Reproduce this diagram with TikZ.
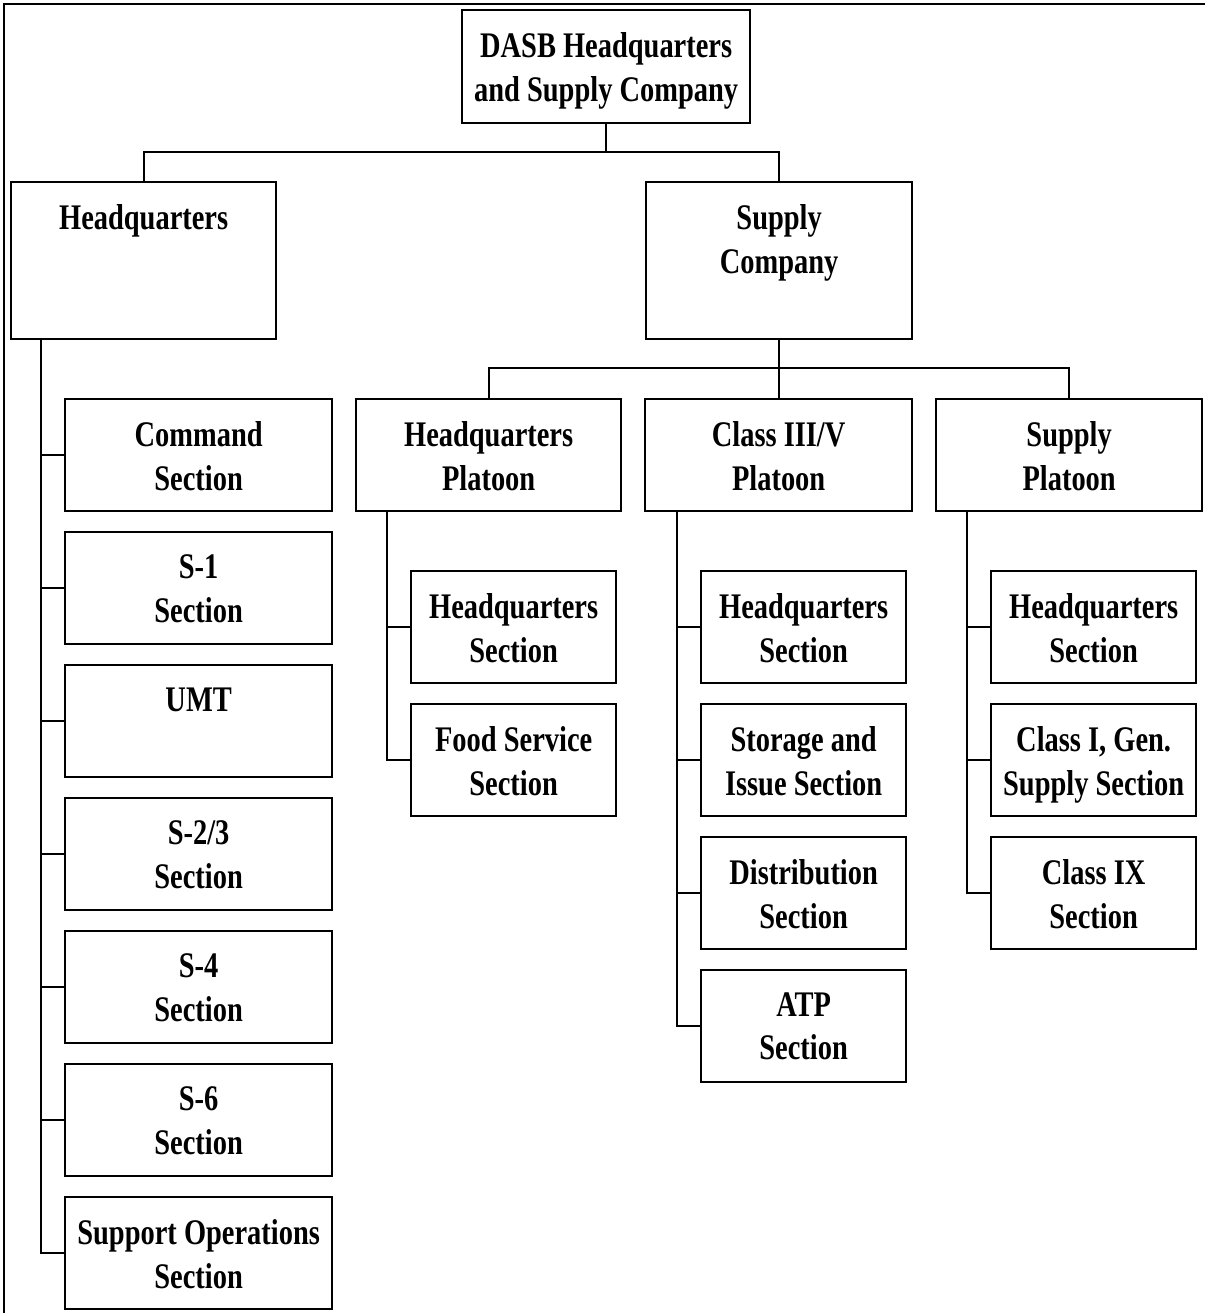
\documentclass[tikz,border=0pt]{standalone}
\usepackage{fontspec}
\newfontfamily\unitfont{Liberation Serif}[FakeStretch=0.79]
\usetikzlibrary{calc}

\tikzset{
  unit/.style={draw=black, line width=2.3pt, fill=white, rectangle, inner sep=0pt},
  unittext/.style={inner sep=0pt, align=center,
    font=\unitfont\bfseries\fontsize{36}{43.5}\selectfont},
  link/.style={draw=black, line width=2.2pt},
  frame/.style={draw=black, line width=2.7pt},
}

% \orgunit{name}{x1}{y1}{x2}{y2}{label}: a box with its label set near the top
\newcommand\orgunit[6]{%
  \node[unit, anchor=north west, minimum width={#4-#2}, minimum height={#5-#3}] (#1) at (#2,#3) {};
  \node[unittext, anchor=north] (#1-t) at ([yshift=-23.5pt]#1.north) {#6};
}

\begin{document}
\begin{tikzpicture}[x=1pt, y=-1pt]
\useasboundingbox (0,0) rectangle (1204,1313);

% page frame (open at right and bottom)
\coordinate (frame-bl) at (4,1320);
\coordinate (frame-tl) at (4,4);
\coordinate (frame-tr) at (1210,4);
\draw[frame] (frame-bl) -- (frame-tl) -- (frame-tr);

% command levels
\orgunit{top}{461}{9}{749}{122}{DASB Headquarters\\and Supply Company}
\orgunit{hq}{10}{181}{275}{338}{Headquarters}
\orgunit{sc}{645}{181}{911}{338}{Supply\\Company}

\orgunit{hqp}{355}{398}{620}{510}{Headquarters\\Platoon}
\orgunit{cfv}{644}{398}{911}{510}{Class III/V\\Platoon}
\orgunit{sp}{935}{398}{1201}{510}{Supply\\Platoon}

% headquarters sections
\orgunit{cmd}{64}{398}{331}{510}{Command\\Section}
\orgunit{sone}{64}{531}{331}{643}{S-1\\Section}
\orgunit{umt}{64}{664}{331}{776}{UMT}
\orgunit{stwo}{64}{797}{331}{909}{S-2/3\\Section}
\orgunit{sfour}{64}{930}{331}{1042}{S-4\\Section}
\orgunit{ssix}{64}{1063}{331}{1175}{S-6\\Section}
\orgunit{sops}{64}{1196}{331}{1308}{Support Operations\\Section}

% headquarters platoon sections
\orgunit{hqp-hq}{410}{570}{615}{682}{Headquarters\\Section}
\orgunit{hqp-fs}{410}{703}{615}{815}{Food Service\\Section}

% class III/V platoon sections
\orgunit{cfv-hq}{700}{570}{905}{682}{Headquarters\\Section}
\orgunit{cfv-si}{700}{703}{905}{815}{Storage and\\Issue Section}
\orgunit{cfv-di}{700}{836}{905}{948}{Distribution\\Section}
\orgunit{cfv-atp}{700}{969}{905}{1081}{ATP\\Section}

% supply platoon sections
\orgunit{sp-hq}{990}{570}{1195}{682}{Headquarters\\Section}
\orgunit{sp-gen}{990}{703}{1195}{815}{Class I, Gen.\\Supply Section}
\orgunit{sp-ix}{990}{836}{1195}{948}{Class IX\\Section}

% bus lines
\coordinate (bus-top) at (0,152);
\coordinate (bus-sc) at (0,368);
\draw[link] (top.south) -- (top.south |- bus-top);
\draw[link] (hq.north) -- (hq.north |- bus-top) -- (sc.north |- bus-top) -- (sc.north);
\draw[link] (sc.south) -- (sc.south |- bus-sc);
\draw[link] (hqp.north) -- (hqp.north |- bus-sc) -- (sp.north |- bus-sc) -- (sp.north);
\draw[link] (cfv.north) -- (cfv.north |- bus-sc);

% section spines
\coordinate (hq-spine) at (41,338);
\coordinate (hqp-spine) at (387,510);
\coordinate (cfv-spine) at (677,510);
\coordinate (sp-spine) at (967,510);

\draw[link] (hq-spine) |- (sops.west);
\foreach \s in {cmd,sone,umt,stwo,sfour,ssix}
  \draw[link] (\s.west) -- (\s.west -| hq-spine);

\draw[link] (hqp-spine) |- (hqp-fs.west);
\draw[link] (hqp-hq.west) -- (hqp-hq.west -| hqp-spine);

\draw[link] (cfv-spine) |- (cfv-atp.west);
\foreach \s in {cfv-hq,cfv-si,cfv-di}
  \draw[link] (\s.west) -- (\s.west -| cfv-spine);

\draw[link] (sp-spine) |- (sp-ix.west);
\foreach \s in {sp-hq,sp-gen}
  \draw[link] (\s.west) -- (\s.west -| sp-spine);
\end{tikzpicture}
\end{document}
